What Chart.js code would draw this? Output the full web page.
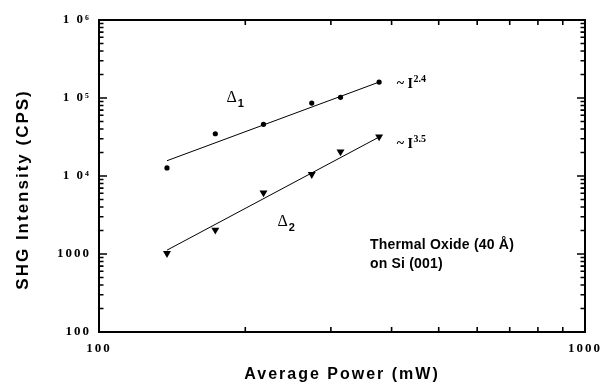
<!DOCTYPE html>
<html><head><meta charset="utf-8">
<script src="https://cdn.jsdelivr.net/npm/chart.js@4.4.1/dist/chart.umd.min.js"></script>
<style>html,body{margin:0;padding:0;background:#fff}#wrap{width:610px;height:387px;position:relative}</style>
</head><body><div id="wrap"><canvas id="c"></canvas></div>
<script>
// ---- data ----
const powerMW   = [138, 173.5, 218, 274, 314, 377];
const shgDelta1 = [12700, 34800, 46000, 86000, 102000, 160000];
const shgDelta2 = [1020, 2030, 6100, 10500, 20500, 31900];
const fitPowerMW = [138, 377];
const fitDelta1  = [15700, 160000];
const fitDelta2  = [1120, 31600];
const xTickValues = [100, 200, 300, 400, 500, 600, 700, 800, 900, 1000];
const xTickLabels = ['100', '', '', '', '', '', '', '', '', '1000'];
const yDecades = [100, 1000, 10000, 100000, 1000000];
const yDecadeLabels = ['100', '1000', '1 0\u2074', '1 0\u2075', '1 0\u2076'];
const yMinorSteps = [2, 3, 4, 5, 6, 7, 8, 9];
const xTitle = 'Average Power (mW)';
const yTitle = 'SHG Intensity (CPS)';
const sampleLines = ['Thermal Oxide (40 \u00C5)', 'on Si (001)'];
const seriesNames = ['\u0394', '1', '\u0394', '2'];
const powerLawLabels = ['~ I', '2.4', '~ I', '3.5'];

const yTickValues = [];
yDecades.forEach((d, i) => {
  yTickValues.push(d);
  if (i < yDecades.length - 1) yMinorSteps.forEach(m => yTickValues.push(d * m));
});
const pts = (xs, ys) => xs.map((x, i) => ({x, y: ys[i]}));
const isDecade = v => { const l = Math.log10(v); return Math.abs(l - Math.round(l)) < 1e-6; };

const frameTicks = {
  id: 'frameTicks',
  beforeDraw(chart) { chart.ctx.letterSpacing = '2px'; },
  beforeDatasetsDraw(chart) { chart.ctx.letterSpacing = '0px'; },
  afterDraw(chart) {
    const {ctx, chartArea: a, scales: {x, y}} = chart;
    ctx.save();
    ctx.strokeStyle = '#000';
    ctx.lineWidth = 2;
    ctx.strokeRect(a.left, a.top, a.right - a.left, a.bottom - a.top);
    ctx.lineWidth = 1.6;
    ctx.beginPath();
    y.ticks.forEach(t => {
      const p = y.getPixelForValue(t.value);
      const L = isDecade(t.value) ? 8 : 4.5;
      ctx.moveTo(a.left, p); ctx.lineTo(a.left + L, p);
      ctx.moveTo(a.right, p); ctx.lineTo(a.right - L, p);
    });
    x.ticks.forEach(t => {
      const p = x.getPixelForValue(t.value);
      const L = isDecade(t.value) ? 8 : 5;
      ctx.moveTo(p, a.bottom); ctx.lineTo(p, a.bottom - L);
      ctx.moveTo(p, a.top); ctx.lineTo(p, a.top + L);
    });
    ctx.stroke();

    ctx.fillStyle = '#000';
    ctx.textBaseline = 'alphabetic';
    ctx.textAlign = 'left';
    const serif = 'Liberation Serif, Times New Roman, serif';
    const sans = 'Liberation Sans, Arial, Helvetica, sans-serif';
    const drawSub = (mainTxt, subTxt, px, py) => {
      ctx.letterSpacing = '0px';
      ctx.font = '16px ' + serif;
      ctx.fillText(mainTxt, px, py);
      const w = ctx.measureText(mainTxt).width;
      ctx.font = 'bold 11px ' + sans;
      ctx.fillText(subTxt, px + w + 1, py + 5);
    };
    drawSub(seriesNames[0], seriesNames[1], x.getPixelForValue(183), y.getPixelForValue(89000));
    drawSub(seriesNames[2], seriesNames[3], x.getPixelForValue(233), y.getPixelForValue(2300));
    const drawSup = (mainTxt, supTxt, px, py) => {
      ctx.letterSpacing = '0px';
      ctx.font = 'bold 14px ' + serif;
      ctx.fillText(mainTxt, px, py);
      const w = ctx.measureText(mainTxt).width;
      ctx.font = 'bold 10px ' + serif;
      ctx.fillText(supTxt, px + w + 0.5, py - 6);
    };
    drawSup(powerLawLabels[0], powerLawLabels[1], x.getPixelForValue(410), y.getPixelForValue(134000));
    drawSup(powerLawLabels[2], powerLawLabels[3], x.getPixelForValue(410), y.getPixelForValue(22800));
    ctx.letterSpacing = '0.2px';
    ctx.font = 'bold 14px ' + sans;
    ctx.fillText(sampleLines[0], x.getPixelForValue(361), y.getPixelForValue(1160));
    ctx.fillText(sampleLines[1], x.getPixelForValue(361), y.getPixelForValue(665));
    ctx.restore();
  }
};

Chart.defaults.font.family = 'Liberation Sans, Arial, sans-serif';
Chart.defaults.color = '#000';

new Chart(document.getElementById('c'), {
  type: 'scatter',
  data: {
    datasets: [
      { data: pts(powerMW, shgDelta1), pointStyle: 'circle', pointRadius: 2.6,
        backgroundColor: '#000', borderColor: '#000', borderWidth: 0, showLine: false },
      { data: pts(powerMW, shgDelta2), pointStyle: 'triangle', rotation: 180, pointRadius: 4.6,
        backgroundColor: '#000', borderColor: '#000', borderWidth: 0, showLine: false },
      { data: pts(fitPowerMW, fitDelta1), showLine: true, pointRadius: 0,
        borderColor: '#000', borderWidth: 1 },
      { data: pts(fitPowerMW, fitDelta2), showLine: true, pointRadius: 0,
        borderColor: '#000', borderWidth: 1 }
    ]
  },
  options: {
    responsive: true, maintainAspectRatio: false, animation: false,
    devicePixelRatio: 1,
    layout: { padding: { left: 0, right: 25, top: 20, bottom: 0 } },
    plugins: { legend: { display: false }, tooltip: { enabled: false } },
    scales: {
      x: {
        type: 'logarithmic', min: 100, max: 1000, position: 'bottom',
        afterBuildTicks: s => { s.ticks = xTickValues.map(v => ({value: v})); },
        afterFit: s => { s.height = 55; },
        grid: { display: false, drawTicks: false }, border: { display: false },
        ticks: {
          autoSkip: false, maxRotation: 0, padding: 9,
          font: { family: 'Liberation Serif, Times New Roman, serif', weight: 'bold', size: 13 },
          callback: (v, i) => xTickLabels[xTickValues.indexOf(v)] ?? ''
        },
        title: { display: true, text: xTitle, padding: { top: 0, bottom: 3 },
          font: { family: 'Liberation Sans, Arial, sans-serif', weight: 'bold', size: 16 } }
      },
      y: {
        type: 'logarithmic', min: 100, max: 1000000, position: 'left',
        afterBuildTicks: s => { s.ticks = yTickValues.map(v => ({value: v})); },
        afterFit: s => { s.width = 99; },
        grid: { display: false, drawTicks: false }, border: { display: false },
        ticks: {
          autoSkip: false, padding: 8,
          font: { family: 'Liberation Serif, Times New Roman, serif', weight: 'bold', size: 13 },
          callback: v => { const i = yDecades.indexOf(v); return i >= 0 ? yDecadeLabels[i] : ''; }
        },
        title: { display: true, text: yTitle + '    ', padding: { top: 13, bottom: 0 },
          font: { family: 'Liberation Sans, Arial, sans-serif', weight: 'bold', size: 17 } }
      }
    }
  },
  plugins: [frameTicks]
});
</script>
</body></html>
